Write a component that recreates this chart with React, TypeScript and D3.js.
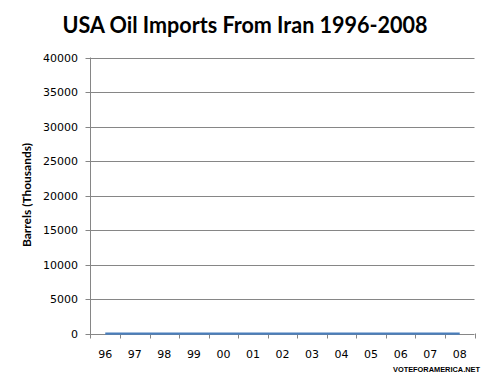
import React from "react";
import * as d3 from "d3";

const years = ["96", "97", "98", "99", "00", "01", "02", "03", "04", "05", "06", "07", "08"];
const imports = [0, 0, 0, 0, 0, 0, 0, 0, 0, 0, 0, 0, 0];
const yTicks = [0, 5000, 10000, 15000, 20000, 25000, 30000, 35000, 40000];

export default function App() {
  const W = 490, H = 377;
  const left = 90.5, right = 474.5, top = 57.5, bottom = 333.5;
  const x = d3.scaleBand<string>().domain(years).range([left, right]);
  const y = d3.scaleLinear().domain([0, 40000]).range([bottom, top]);
  const line = d3
    .line<number>()
    .x((_, i) => (x(years[i]) as number) + x.bandwidth() / 2)
    .y((d) => y(d));
  const grey = "#868686";
  const lab = "DejaVu Sans, Verdana, sans-serif";
  return (
    <svg width={W} height={H} style={{ position: "absolute", left: 0, top: 0, background: "#fff" }}>
      <text x={245} y={33} textAnchor="middle" fontFamily="Lato, Open Sans, sans-serif" fontWeight="bold" fontSize={22} textLength={365} lengthAdjust="spacingAndGlyphs" fill="#000">
        USA Oil Imports From Iran 1996-2008
      </text>
      {yTicks.map((t) => (
        <g key={t}>
          <line x1={left - 5} x2={right} y1={Math.round(y(t)) + 0.5} y2={Math.round(y(t)) + 0.5} stroke={grey} strokeWidth={1} />
          <text x={78} y={y(t) + 4} textAnchor="end" fontFamily={lab} fontSize={11} fill="#000">
            {t}
          </text>
        </g>
      ))}
      <line x1={left} x2={left} y1={top} y2={bottom + 5} stroke={grey} />
      {years.map((yr) => (
        <line key={"t" + yr} x1={Math.round((x(yr) as number) + x.bandwidth()) + 0.5} x2={Math.round((x(yr) as number) + x.bandwidth()) + 0.5} y1={bottom} y2={bottom + 5} stroke={grey} />
      ))}
      {years.map((yr) => (
        <text key={yr} x={(x(yr) as number) + x.bandwidth() / 2} y={358} textAnchor="middle" fontFamily={lab} fontSize={11} fill="#000">
          {yr}
        </text>
      ))}
      <path d={line(imports) || ""} fill="none" stroke="#4a7ebb" strokeWidth={2.25} />
      <text transform="translate(31,195) rotate(-90)" textAnchor="middle" fontFamily="Lato, Open Sans, sans-serif" fontWeight="bold" fontSize={11} textLength={104} lengthAdjust="spacingAndGlyphs" fill="#000">
        Barrels (Thousands)
      </text>
      <text x={480} y={372} textAnchor="end" fontFamily="Liberation Sans, Arial, sans-serif" fontWeight="bold" fontSize={7.4} fill="#000">
        VOTEFORAMERICA.NET
      </text>
    </svg>
  );
}
